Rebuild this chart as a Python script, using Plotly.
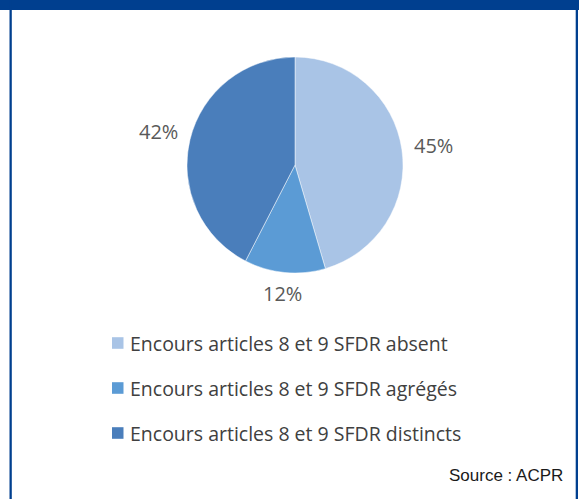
import math
import plotly.graph_objects as go

# Répartition des encours selon la publication des articles 8 et 9 SFDR
categories = [
    "Encours articles 8 et 9 SFDR absent",
    "Encours articles 8 et 9 SFDR agrégés",
    "Encours articles 8 et 9 SFDR distincts",
]
shares = [45, 12, 42]
colors = ["#A9C4E6", "#5B9BD5", "#4A7EBB"]
source_text = "Source : ACPR"

W, H = 579, 499
FRAME = "#003F8F"

# pie geometry (pixels)
cx, cy, R = 295, 165, 108

fig = go.Figure(
    go.Pie(
        labels=categories,
        values=shares,
        sort=False,
        direction="clockwise",
        rotation=0,
        marker=dict(colors=colors, line=dict(color="rgba(255,255,255,0.6)", width=0.8)),
        textinfo="none",
        hoverinfo="label+value",
        showlegend=False,
        domain=dict(x=[(cx - R) / W, (cx + R) / W], y=[1 - (cy + R) / H, 1 - (cy - R) / H]),
    )
)

annotations = []
shapes = []

# percentage labels placed outside each slice, at its mid angle
total = sum(shares)
cum = 0.0
lab_w, lab_h, gap = 39, 15, 12
for v in shares:
    mid = (cum + v / 2) / total * 2 * math.pi
    cum += v
    ux, uy = math.sin(mid), -math.cos(mid)
    dist = R + gap + (lab_w / 2) * abs(ux) + (lab_h / 2) * abs(uy)
    px, py = cx + dist * ux, cy + dist * uy
    annotations.append(dict(
        x=px / W, y=1 - py / H, xref="paper", yref="paper",
        text=f"{v}%", showarrow=False, xanchor="center", yanchor="middle",
        font=dict(family="Open Sans", size=20, color="#595959"),
    ))

# legend: colour squares with their labels
row_y = [343, 388, 433]
for name, col, ry in zip(categories, colors, row_y):
    shapes.append(dict(
        type="rect", xref="paper", yref="paper",
        x0=112 / W, x1=123.5 / W, y0=1 - (ry + 5.8) / H, y1=1 - (ry - 5.8) / H,
        fillcolor=col, line=dict(width=0),
    ))
    annotations.append(dict(
        x=128 / W, y=1 - ry / H, xref="paper", yref="paper",
        text=name, showarrow=False, xanchor="left", yanchor="middle",
        font=dict(family="Open Sans", size=19.5, color="#404040"),
    ))

annotations.append(dict(
    x=565 / W, y=1 - 475 / H, xref="paper", yref="paper",
    text=source_text, showarrow=False, xanchor="right", yanchor="middle",
    font=dict(family="Liberation Sans", size=17, color="#1a1a1a"),
))

# blue frame: top band and side borders
shapes += [
    dict(type="rect", xref="paper", yref="paper", x0=0, x1=1, y0=1 - 10 / H, y1=1,
         fillcolor=FRAME, line=dict(width=0)),
    dict(type="rect", xref="paper", yref="paper", x0=9.5 / W, x1=11.8 / W, y0=0, y1=1,
         fillcolor=FRAME, line=dict(width=0)),
    dict(type="rect", xref="paper", yref="paper", x0=575.7 / W, x1=578 / W, y0=0, y1=1,
         fillcolor=FRAME, line=dict(width=0)),
]

fig.update_layout(
    width=W, height=H,
    margin=dict(l=0, r=0, t=0, b=0),
    paper_bgcolor="white", plot_bgcolor="white",
    annotations=annotations, shapes=shapes,
)

fig.write_html("out.html")
